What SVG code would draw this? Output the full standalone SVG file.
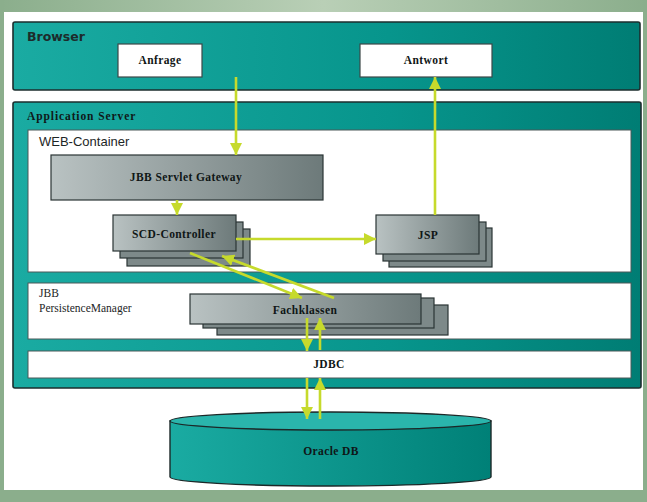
<svg xmlns="http://www.w3.org/2000/svg" width="647" height="502" viewBox="0 0 647 502">
  <defs>
    <linearGradient id="frameTop" x1="0" y1="0" x2="1" y2="0">
      <stop offset="0" stop-color="#8bae8c"/>
      <stop offset="0.5" stop-color="#b9cfb6"/>
      <stop offset="1" stop-color="#8bae8c"/>
    </linearGradient>
    <linearGradient id="teal" x1="0" y1="0" x2="1" y2="0">
      <stop offset="0" stop-color="#1aaba2"/>
      <stop offset="0.6" stop-color="#07958c"/>
      <stop offset="1" stop-color="#007d74"/>
    </linearGradient>
    <linearGradient id="gray" x1="0" y1="0" x2="1" y2="0">
      <stop offset="0" stop-color="#b9c2c2"/>
      <stop offset="1" stop-color="#6d7a7a"/>
    </linearGradient>
    <linearGradient id="cyl" x1="0" y1="0" x2="1" y2="0">
      <stop offset="0" stop-color="#1aaba2"/>
      <stop offset="1" stop-color="#008077"/>
    </linearGradient>
    <marker id="head" markerUnits="userSpaceOnUse" markerWidth="14" markerHeight="12" refX="12" refY="6" orient="auto">
      <path d="M0,0 L12,6 L0,12 Z" fill="#c6da2c"/>
    </marker>
    <style>
      .container { fill: url(#teal); stroke: #1c2e2e; stroke-width: 1.6; }
      .panel { fill: #ffffff; stroke: #4a5858; stroke-width: 1; }
      .msg { fill: #ffffff; stroke: #3c4848; stroke-width: 1.2; }
      .comp { fill: url(#gray); stroke: #2a3434; stroke-width: 1.2; }
      .back { fill: #7d8989; stroke: #2a3434; stroke-width: 1.2; }
      .flow { stroke: #c6da2c; stroke-width: 2.6; fill: none; marker-end: url(#head); }
      .title { font-family: "DejaVu Sans", sans-serif; font-weight: bold; font-size: 12.5px; fill: #1d2b2b; }
      .stitle { font-family: "Liberation Serif", serif; font-weight: bold; font-size: 11.5px; fill: #0f1818; letter-spacing: 0.9px; }
      .plain { font-family: "Liberation Sans", sans-serif; font-size: 13px; fill: #1d2626; }
      .serif { font-family: "Liberation Serif", serif; font-size: 11.5px; fill: #1d2626; }
      .label { font-family: "Liberation Serif", serif; font-weight: bold; font-size: 11.5px; fill: #0f1616; text-anchor: middle; letter-spacing: 0.4px; }
    </style>
  </defs>

  <!-- page frame -->
  <rect x="0" y="0" width="647" height="502" fill="#ffffff"/>
  <rect x="0" y="0" width="647" height="12" fill="url(#frameTop)"/>
  <rect x="0" y="0" width="4" height="502" fill="#8bae8c"/>
  <rect x="643" y="0" width="4" height="502" fill="#8bae8c"/>
  <rect x="0" y="490" width="647" height="12" fill="#8bae8c"/>

  <!-- Browser -->
  <g id="browser">
    <rect class="container" x="13" y="22" width="627" height="68" rx="2"/>
    <text class="title" x="27" y="41">Browser</text>
  </g>
  <g id="anfrage">
    <rect class="msg" x="118" y="44" width="84" height="33"/>
    <text class="label" x="160" y="64">Anfrage</text>
  </g>
  <g id="antwort">
    <rect class="msg" x="360" y="44" width="132" height="33"/>
    <text class="label" x="426" y="64">Antwort</text>
  </g>

  <!-- Application Server -->
  <g id="appserver">
    <rect class="container" x="13" y="102" width="628" height="286" rx="2"/>
    <text class="stitle" x="27" y="120">Application Server</text>
  </g>
  <g id="webcontainer">
    <rect class="panel" x="28" y="130" width="603" height="142"/>
    <text class="plain" x="39" y="146">WEB-Container</text>
  </g>
  <g id="gateway">
    <rect class="comp" x="51" y="155" width="272" height="45"/>
    <text class="label" x="186" y="181">JBB Servlet Gateway</text>
  </g>
  <g id="scdcontroller">
    <rect class="back" x="127" y="229" width="123" height="37"/>
    <rect class="back" x="120" y="222" width="123" height="36"/>
    <rect class="comp" x="113" y="215" width="123" height="36"/>
    <text class="label" x="174" y="238">SCD-Controller</text>
  </g>
  <g id="jsp">
    <rect class="back" x="389" y="228" width="103" height="39"/>
    <rect class="back" x="383" y="222" width="103" height="39"/>
    <rect class="comp" x="376" y="215" width="103" height="39"/>
    <text class="label" x="428" y="239">JSP</text>
  </g>

  <g id="persistence">
    <rect class="panel" x="28" y="283" width="603" height="56"/>
    <text class="serif" x="39" y="297">JBB</text>
    <text class="serif" x="39" y="312">PersistenceManager</text>
  </g>
  <g id="fachklassen">
    <rect class="back" x="217" y="305" width="231" height="30"/>
    <rect class="back" x="203" y="298" width="231" height="30"/>
    <rect class="comp" x="190" y="294" width="231" height="30"/>
    <text class="label" x="305" y="314">Fachklassen</text>
  </g>
  <g id="jdbc">
    <rect class="panel" x="28" y="351" width="603" height="27"/>
    <text class="label" x="329" y="368">JDBC</text>
  </g>

  <!-- Oracle DB -->
  <g id="oracledb">
    <path d="M170,421 L170,477 A160.5,9 0 0 0 491,477 L491,421 Z" fill="url(#cyl)" stroke="#1c2828" stroke-width="1.4"/>
    <ellipse cx="330.5" cy="421" rx="160.5" ry="9" fill="#2ab5ac" stroke="#1c2828" stroke-width="1.4"/>
    <text class="label" x="331" y="455">Oracle DB</text>
  </g>

  <!-- connectors -->
  <g id="connectors">
    <line class="flow" x1="236" y1="77" x2="236" y2="155"/>
    <line class="flow" x1="177" y1="200" x2="177" y2="215"/>
    <line class="flow" x1="236" y1="239" x2="376" y2="239"/>
    <line class="flow" x1="435" y1="215" x2="435" y2="77"/>
    <line class="flow" x1="190" y1="253" x2="302" y2="298"/>
    <line class="flow" x1="334" y1="298" x2="222" y2="256"/>
    <line class="flow" x1="307" y1="318" x2="307" y2="351"/>
    <line class="flow" x1="320" y1="350" x2="320" y2="318"/>
    <line class="flow" x1="307" y1="378" x2="307" y2="419"/>
    <line class="flow" x1="320" y1="419" x2="320" y2="378"/>
  </g>
</svg>
